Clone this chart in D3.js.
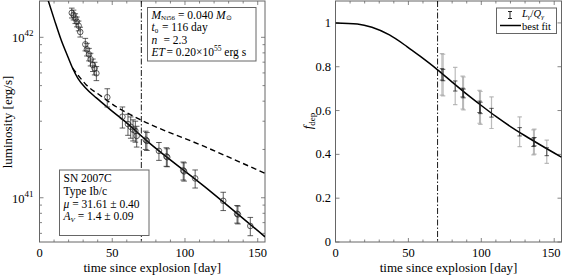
<!DOCTYPE html>
<html><head><meta charset="utf-8">
<script src="https://cdn.jsdelivr.net/npm/d3@7"></script>
<style>
body{margin:0;background:#fff;}
svg{display:block;}
text{font-family:"Liberation Serif","Times New Roman",serif;}
</style></head><body>
<svg id="c" width="562" height="275" font-family="Liberation Serif, serif"></svg>
<script>
// ---------- data ----------
// Left panel: bolometric light curve points
const lumT = [22.2, 23.4, 24.6, 25.7, 26.9, 28.0, 31.5, 32.6, 34.0, 35.1, 36.7, 37.9, 39.1, 46.6,
              57.0, 60.8, 62.7, 64.3, 65.9, 66.8, 73.0, 73.8, 82.1, 87.2, 87.8, 98.8, 99.4, 107.0,
              126.3, 135.8, 136.4, 144.9];
const lumL = [1.42e42, 1.38e42, 1.31e42, 1.25e42, 1.18e42, 1.08e42, 9.04e41, 8.41e41, 7.83e41, 7.29e41,
              6.72e41, 6.41e41, 5.97e41, 4.23e41, 3.20e41, 2.88e41, 2.77e41, 2.66e41, 2.61e41, 2.43e41,
              2.30e41, 2.26e41, 1.96e41, 1.81e41, 1.79e41, 1.48e41, 1.46e41, 1.32e41, 9.57e40, 7.95e40,
              7.87e40, 6.67e40];
const lumErr = [1.0e41, 9.7e40, 9.2e40, 8.8e40, 8.3e40, 7.6e40, 8.1e40, 7.6e40, 7.0e40, 6.6e40,
                6.0e40, 5.8e40, 6.0e40, 5.5e40, 4.8e40, 4.3e40, 4.2e40, 4.0e40, 3.9e40, 3.6e40,
                3.0e40, 2.9e40, 2.5e40, 2.4e40, 2.3e40, 1.9e40, 1.9e40, 1.7e40, 1.25e40, 1.0e40,
                1.0e40, 8.7e39];
// Left panel model curves
const modelT = [5.5, 10.3, 14.9, 19.5, 22.7, 26.4, 31.7, 39.1, 48.2, 59.7, 73.4, 113.7, 155];
const modelL = [1.75e42, 1.28e42, 9.62e41, 7.57e41, 6.44e41, 5.55e41, 4.83e41, 4.19e41, 3.57e41,
                2.94e41, 2.28e41, 1.17e41, 5.71e40];
const fullT = [22.7, 25.3, 32.2, 41.3, 52.8, 68.9, 113.7, 155];
const fullL = [6.44e41, 6.0e41, 5.05e41, 4.37e41, 3.69e41, 3.08e41, 2.08e41, 1.42e41];
const tCut = 70;
// Right panel: deposition fraction
const fdepT = [73.0, 73.8, 82.1, 87.2, 87.8, 98.8, 99.4, 107.0, 126.3, 135.8, 136.4, 144.9];
const fdepV = [0.765, 0.762, 0.712, 0.682, 0.678, 0.617, 0.612, 0.590, 0.503, 0.455, 0.458, 0.412];
const fdepErrTot = [0.095, 0.095, 0.085, 0.075, 0.075, 0.075, 0.075, 0.072, 0.068, 0.057, 0.057, 0.053];
const fdepErrStat = [0.026, 0.026, 0.023, 0.020, 0.020, 0.026, 0.026, 0.020, 0.019, 0.019, 0.019, 0.018];
const fitT = [0, 15, 25, 37, 49, 58, 70, 80, 90, 100, 110, 120, 130, 140, 155];
const fitF = [1.0, 0.995, 0.98, 0.945, 0.892, 0.848, 0.786, 0.73, 0.675, 0.623, 0.573, 0.527, 0.485, 0.445, 0.387];
// ticks
const xMajor = [0, 50, 100, 150];
const xMinor = d3.range(0, 156, 10);
const lYMajor = [1e41, 1e42];
const lYMinor = [6e40, 7e40, 8e40, 9e40, 2e41, 3e41, 4e41, 5e41, 6e41, 7e41, 8e41, 9e41];
const rYMajor = [0, 0.2, 0.4, 0.6, 0.8, 1];

// ---------- layout ----------
const svg = d3.select("#c");
const P1 = {x0: 39.5, x1: 265, y0: 1, y1: 242};
const P2 = {x0: 335.5, x1: 561.5, y0: 1, y1: 242};
const xL = d3.scaleLinear().domain([0, 155]).range([P1.x0, P1.x1]);
const yL = d3.scaleLog().domain([5.3e40, 1.684e42]).range([P1.y1, P1.y0]);
const xR = d3.scaleLinear().domain([0, 155]).range([P2.x0, P2.x1]);
const yR = d3.scaleLinear().domain([0, 1.1]).range([P2.y1, P2.y0]);
const AX = "#666";

const defs = svg.append("defs");
[["c1", P1], ["c2", P2]].forEach(([id, P]) => {
  defs.append("clipPath").attr("id", id).append("rect")
    .attr("x", P.x0).attr("y", P.y0).attr("width", P.x1 - P.x0).attr("height", P.y1 - P.y0);
});

function frame(P, xs, ys, yMaj, yMin) {
  const g = svg.append("g");
  const t = (x1, y1, x2, y2) => g.append("line").attr("x1", x1).attr("y1", y1).attr("x2", x2).attr("y2", y2)
      .attr("stroke", AX).attr("stroke-width", 0.8);
  xMinor.forEach(v => { const x = xs(v); const L = xMajor.includes(v) ? 4 : 2.5; t(x, P.y1, x, P.y1 - L); t(x, P.y0, x, P.y0 + L); });
  yMaj.forEach(v => { const y = ys(v); t(P.x0, y, P.x0 + 4, y); t(P.x1, y, P.x1 - 4, y); });
  (yMin || []).forEach(v => { const y = ys(v); t(P.x0, y, P.x0 + 2.5, y); t(P.x1, y, P.x1 - 2.5, y); });
  g.append("rect").attr("x", P.x0).attr("y", P.y0).attr("width", P.x1 - P.x0).attr("height", P.y1 - P.y0)
    .attr("fill", "none").attr("stroke", AX).attr("stroke-width", 1);
  xMajor.forEach(v => g.append("text").attr("x", Math.min(xs(v), 551)).attr("y", 256.5).attr("text-anchor", "middle")
    .attr("font-size", 12.5).text(v));
  g.append("text").attr("x", (P.x0 + P.x1) / 2).attr("y", 272).attr("text-anchor", "middle")
    .attr("font-size", 13).text("time since explosion [day]");
  return g;
}

// ---------- left panel ----------
const g1 = frame(P1, xL, yL, lYMajor, lYMinor);
lYMajor.forEach(v => {
  const tx = g1.append("text").attr("x", 33.5).attr("y", yL(v) + 5).attr("text-anchor", "end").attr("font-size", 12.5);
  tx.append("tspan").text("10");
  tx.append("tspan").attr("font-size", 9).attr("dy", -6).text(Math.round(Math.log10(v)));
});
g1.append("text").attr("transform", "translate(12,122) rotate(-90)").attr("text-anchor", "middle")
  .attr("font-size", 13).text("luminosity [erg/s]");

const c1 = svg.append("g").attr("clip-path", "url(#c1)");
const lineL = d3.line().x(d => xL(d[0])).y(d => yL(d[1])).curve(d3.curveMonotoneX);
c1.append("line").attr("x1", xL(tCut)).attr("x2", xL(tCut)).attr("y1", P1.y0).attr("y2", P1.y1)
  .attr("stroke", "#000").attr("stroke-width", 0.9).attr("stroke-dasharray", "6,2,1.5,2");
c1.append("path").datum(fullT.map((t, i) => [t, fullL[i]])).attr("d", lineL)
  .attr("fill", "none").attr("stroke", "#000").attr("stroke-width", 1.4).attr("stroke-dasharray", "5.5,3.5");
c1.append("path").datum(modelT.map((t, i) => [t, modelL[i]])).attr("d", lineL)
  .attr("fill", "none").attr("stroke", "#000").attr("stroke-width", 1.5);
const pts = c1.append("g").attr("stroke", "#222").attr("stroke-opacity", 0.72).attr("fill", "none").attr("stroke-width", 1);
lumT.forEach((t, i) => {
  const x = xL(t), yt = yL(lumL[i] + lumErr[i]), yb = yL(lumL[i] - lumErr[i]), y = yL(lumL[i]);
  pts.append("line").attr("x1", x).attr("x2", x).attr("y1", yt).attr("y2", yb);
  pts.append("line").attr("x1", x - 2.8).attr("x2", x + 2.8).attr("y1", yt).attr("y2", yt);
  pts.append("line").attr("x1", x - 2.8).attr("x2", x + 2.8).attr("y1", yb).attr("y2", yb);
  pts.append("circle").attr("cx", x).attr("cy", y).attr("r", 2.8);
});

// text boxes
function box(x, y, w, h) {
  svg.append("rect").attr("x", x).attr("y", y).attr("width", w).attr("height", h)
    .attr("fill", "#fff").attr("stroke", AX).attr("stroke-width", 1);
}
box(147.5, 7.5, 108.5, 53.5);
const fs = 11.5, sub = 7;
let t1 = svg.append("text").attr("x", 151.5).attr("y", 18.6).attr("font-size", fs);
t1.append("tspan").attr("font-style", "italic").text("M");
t1.append("tspan").attr("font-size", sub).attr("dy", 1.5).text("Ni56");
t1.append("tspan").attr("dy", -1.5).text(" = 0.040 ");
t1.append("tspan").attr("font-style", "italic").text("M");
t1.append("tspan").attr("font-size", sub).attr("dy", 1.5).text("⊙");
let t2 = svg.append("text").attr("x", 151.5).attr("y", 31.2).attr("font-size", fs);
t2.append("tspan").attr("font-style", "italic").text("t");
t2.append("tspan").attr("font-size", sub).attr("dy", 1.5).text("0");
t2.append("tspan").attr("dy", -1.5).attr("x", 162).text("= 116 day");
let t3 = svg.append("text").attr("x", 151.5).attr("y", 43.6).attr("font-size", fs);
t3.append("tspan").attr("font-style", "italic").text("n");
t3.append("tspan").attr("x", 163.5).text("= 2.3");
let t4 = svg.append("text").attr("x", 151.5).attr("y", 56).attr("font-size", fs);
t4.append("tspan").attr("font-style", "italic").text("ET");
t4.append("tspan").attr("x", 166.5).text("= 0.20×10");
t4.append("tspan").attr("font-size", 7.5).attr("dy", -5).text("55");
t4.append("tspan").attr("dy", 5).text(" erg s");

box(59.5, 170, 89.5, 65.5);
svg.append("text").attr("x", 63.5).attr("y", 182).attr("font-size", fs).text("SN 2007C");
svg.append("text").attr("x", 63.5).attr("y", 194.8).attr("font-size", fs).text("Type Ib/c");
let s3 = svg.append("text").attr("x", 63.5).attr("y", 207.6).attr("font-size", fs);
s3.append("tspan").attr("font-style", "italic").text("μ");
s3.append("tspan").text(" = 31.61 ± 0.40");
let s4 = svg.append("text").attr("x", 63.5).attr("y", 220.4).attr("font-size", fs);
s4.append("tspan").attr("font-style", "italic").text("A");
s4.append("tspan").attr("font-size", sub).attr("font-style", "italic").attr("dy", 1.5).text("V");
s4.append("tspan").attr("dy", -1.5).text(" = 1.4 ± 0.09");

// ---------- right panel ----------
const g2 = frame(P2, xR, yR, rYMajor, null);
rYMajor.forEach(v => g2.append("text").attr("x", 331).attr("y", yR(v) + 4).attr("text-anchor", "end")
  .attr("font-size", 12.5).text(v));
const fl = g2.append("text").attr("transform", "translate(312,121) rotate(-90)").attr("text-anchor", "middle").attr("font-size", 13);
fl.append("tspan").attr("font-style", "italic").text("f");
fl.append("tspan").attr("font-size", 9).attr("dy", 3).text("dep");

const c2 = svg.append("g").attr("clip-path", "url(#c2)");
c2.append("line").attr("x1", xR(tCut)).attr("x2", xR(tCut)).attr("y1", P2.y0).attr("y2", P2.y1)
  .attr("stroke", "#000").attr("stroke-width", 0.9).attr("stroke-dasharray", "6,2,1.5,2");
const lineR = d3.line().x(d => xR(d[0])).y(d => yR(d[1])).curve(d3.curveMonotoneX);
function errbar(g, x, lo, hi, cw) {
  g.append("line").attr("x1", x).attr("x2", x).attr("y1", lo).attr("y2", hi);
  g.append("line").attr("x1", x - cw).attr("x2", x + cw).attr("y1", lo).attr("y2", lo);
  g.append("line").attr("x1", x - cw).attr("x2", x + cw).attr("y1", hi).attr("y2", hi);
}
const gTot = c2.append("g").attr("stroke", "#aaa").attr("stroke-opacity", 0.8).attr("stroke-width", 1.2);
fdepT.forEach((t, i) => errbar(gTot, xR(t), yR(fdepV[i] - fdepErrTot[i]), yR(fdepV[i] + fdepErrTot[i]), 2.2));
c2.append("path").datum(fitT.map((t, i) => [t, fitF[i]])).attr("d", lineR)
  .attr("fill", "none").attr("stroke", "#000").attr("stroke-width", 1.5);
const gStat = c2.append("g").attr("stroke", "#222").attr("stroke-opacity", 0.75).attr("stroke-width", 1);
fdepT.forEach((t, i) => errbar(gStat, xR(t), yR(fdepV[i] - fdepErrStat[i]), yR(fdepV[i] + fdepErrStat[i]), 2.2));

// legend
box(496.5, 8, 60, 25.5);
const lg = svg.append("g").attr("stroke", "#222").attr("stroke-width", 1);
errbar(lg, 510, 11.5, 18.5, 2);
svg.append("line").attr("x1", 500).attr("x2", 521).attr("y1", 25.5).attr("y2", 25.5).attr("stroke", "#000").attr("stroke-width", 1.5);
let l1 = svg.append("text").attr("x", 522).attr("y", 16.5).attr("font-size", 10.5);
l1.append("tspan").attr("font-style", "italic").text("L");
l1.append("tspan").attr("font-size", 7).attr("font-style", "italic").attr("dy", 2).text("γ");
l1.append("tspan").attr("dy", -2).text("/");
l1.append("tspan").attr("font-style", "italic").text("Q");
l1.append("tspan").attr("font-size", 7).attr("font-style", "italic").attr("dy", 2).text("γ");
svg.append("text").attr("x", 522).attr("y", 29.5).attr("font-size", 10.5).text("best fit");
</script>
</body></html>
